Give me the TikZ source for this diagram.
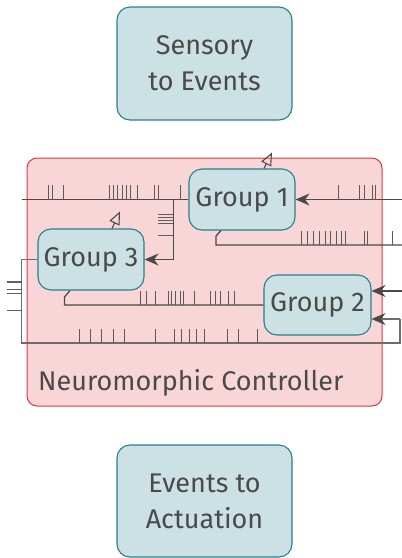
\documentclass[tikz,border=0pt]{standalone}
\usepackage{fontspec}
\setmainfont{Fira Sans}
\usetikzlibrary{arrows.meta}
\definecolor{boxfill}{HTML}{CCE1E4}
\definecolor{boxline}{HTML}{2A7F8C}
\definecolor{ctlfill}{HTML}{F8D6D7}
\definecolor{ctlline}{HTML}{E2353B}
\definecolor{ink}{HTML}{4A4A48}
\definecolor{spk}{HTML}{5C5A58}
\definecolor{loopink}{HTML}{6E6C6A}
\tikzset{
  block/.style={draw=boxline, fill=boxfill, line width=1.1pt, rounded corners=13pt,
    align=center, text=ink, font=\fontsize{27}{36}\selectfont, inner sep=0pt},
  wire/.style={draw=ink, line width=1.3pt},
  feed/.style={wire, -{Stealth[length=14pt,width=12pt,inset=4.5pt,color=ink]}},
  outtip/.style={draw=ink, line width=1.1pt, -{Triangle[open,length=13pt,width=11pt]}},
  spike/.style={draw=spk, line width=1pt},
  hspike/.style={draw=gray!75!black, line width=1pt}
}
\begin{document}
\begin{tikzpicture}[x=1pt, y=-1pt]
\useasboundingbox (0,0) rectangle (402,558);

% controller region
\node[draw=ctlline, fill=ctlfill, line width=1pt, rounded corners=10pt,
      minimum width=355pt, minimum height=248pt, inner sep=0pt] (ctl) at (204.5,282) {};
\node[anchor=base west, text=ink, font=\fontsize{27}{32}\selectfont, inner sep=0pt]
      (ctllabel) at (38,390) {Neuromorphic Controller};

% interface blocks
\node[block, minimum width=175pt, minimum height=113pt] (sens) at (204.5,63.5) {Sensory\\to Events};
\node[block, minimum width=175pt, minimum height=112pt] (act) at (204.5,501) {Events to\\Actuation};

% neuron groups
\node[block, minimum width=106pt, minimum height=61pt] (g1) at (242,199.5) {Group 1};
\node[block, minimum width=106pt, minimum height=61pt] (g3) at (91,259.5) {Group 3};
\node[block, minimum width=107pt, minimum height=60pt] (g2) at (317.5,305) {Group 2};

% free ends of the event lines
\coordinate (in1) at (402,199.5);
\coordinate (w1) at (22,199.5);
\coordinate (br1) at (173.3,199.5);
\coordinate (out1) at (402,245);
\coordinate (in2) at (402,291);
\coordinate (loopR) at (400,343);
\coordinate (loopL) at (21.7,343);

% Group 1 connections
\draw[feed] (in1) -- (g1.east);
\draw[wire] (g1.west) -- (w1);
\draw[feed] (br1) -- (173.3,259.5) -- (g3.east);
\draw[wire] ([xshift=-21pt]g1.south) -- (216,236) -- (216,245) -- (out1);
\draw[outtip] ([xshift=22pt]g1.north) -- ++(8,-16);

% Group 2 connections
\draw[feed] (in2) -- ([yshift=14pt]g2.east);
\draw[wire] (g2.west) -- (64.5,305) -- (64.5,297) -- ([xshift=-21pt]g3.south);

% Group 3 connections and recurrent loop
\draw[wire, draw=loopink, line width=1.2pt] (g3.west) -- (21.7,259.5) -- (loopL) -- (loopR) -- (400,319);
\draw[feed, draw=loopink, line width=1.2pt] (400,319) -- ([yshift=-14pt]g2.east);
\draw[outtip] ([xshift=21pt]g3.north) -- ++(8,-17);

% spike trains
\foreach \x in {48.7,52,63.3,109,113.3,117.7,122,126,130.3,137.7,154.7,158.3,180}
  \draw[spike] (\x,199.5) -- ++(0,-15);
\foreach \x in {338.3,359.3,364.3,372.3,375}
  \draw[spike] (\x,199.5) -- ++(0,-15);
\foreach \x in {301.7,307.3,313.3,319,325,330.3,336,341,345.7,364.3,367.3,392.5}
  \draw[spike] (\x,245) -- ++(0,-14);
\foreach \x in {140.7,146.7,155.7,168.3,171.7,175,180,183.3,194.3,210,215,220,228.3,234.3}
  \draw[spike] (\x,305) -- ++(0,-14);
\foreach \x in {79,90,101.7,113.3,124.3,155,174,181.7,189,196.7,204,227.3,238,257.3}
  \draw[spike] (\x,343) -- ++(0,-14);
\foreach \y in {214.3,217.3,220.3,223.3,235.5}
  \draw[hspike] (173.3,\y) -- ++(-15,0);
\foreach \y in {281,282.5,289,293.5,310}
  \draw[hspike] (21.7,\y) -- ++(-14.5,0);
\end{tikzpicture}
\end{document}
